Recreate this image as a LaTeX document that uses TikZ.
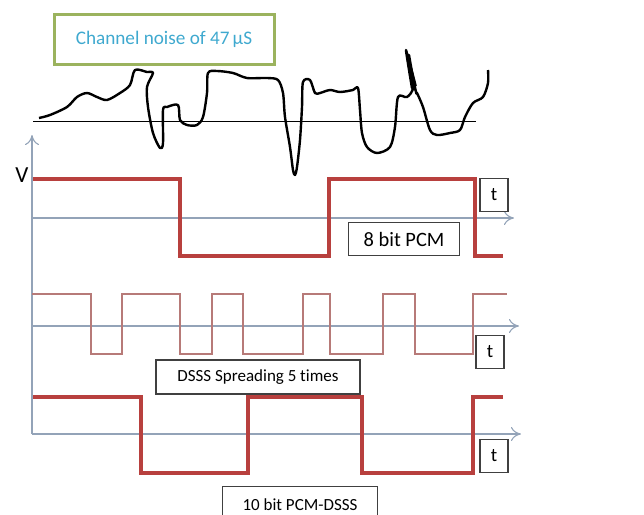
\documentclass[tikz,border=0pt]{standalone}
\usepackage{fontspec}
\setmainfont{Carlito}[Ligatures=NoCommon]
\usetikzlibrary{arrows.meta}
\definecolor{pcmred}{HTML}{B8403E}
\definecolor{chipred}{HTML}{B77A78}
\definecolor{axisgray}{HTML}{93A3B8}
\definecolor{boxgreen}{HTML}{9BB35E}
\definecolor{noisecyan}{HTML}{3FA9CF}
\begin{document}
\begin{tikzpicture}[x=0.5pt, y=-0.5pt,
    axis/.style={draw=axisgray, line width=0.55pt, -{To[length=5pt,width=7pt]}},
    pcm/.style={draw=pcmred, line width=1.6pt},
    chip/.style={draw=chipred, line width=0.6pt},
    lblbox/.style={draw=black!75, line width=0.6pt, fill=white, inner sep=0pt, font=\fontsize{8.5}{10}\selectfont},
    tbox/.style={lblbox, minimum width=14pt, minimum height=16.5pt, font=\fontsize{9.5}{10}\selectfont}]
    \useasboundingbox (0,0) rectangle (644,515);

    % title box
    \node[draw=boxgreen, line width=1.5pt, minimum width=110pt, minimum height=25pt, inner sep=0pt,
          text=noisecyan, font=\fontsize{9.6}{10}\selectfont] (noise) at (164,39) {Channel noise of 47\,µS};

    % noise trace
    \draw[line width=0.5pt] (33,121) -- (476,121);
    \draw[line width=1.2pt, line join=round] plot[smooth, tension=0.5] coordinates {
        (39,118) (50,115) (67,107) (77,97) (87,93) (97,97) (107,100) (120,93) (130,85)
        (135,70) (147,72) (153,73) (147,87) (148,107) (153,133) (160,148) (163,143)
        (163,110) (167,107) (178,105) (180,120) (187,125) (197,125) (203,117) (207,93)
        (208,73) (217,71) (233,73) (247,78) (267,78) (278,80) (283,93) (285,117)
        (290,147) (293,170) (295,175) (297,167) (300,140) (302,107) (303,82) (310,80)
        (315,93) (320,93) (330,90) (340,92) (353,90) (358,88) (360,110) (362,133)
        (367,147) (377,153) (390,147) (395,127) (398,97) (407,97) (413,87)
        (408,60) (412,88) (406,50) (414,85) (409,55) (415,90) (410,62) (416,92)
        (417,93) (423,107) (430,130) (437,135) (450,133) (460,130) (465,117)
        (473,103) (483,97) (488,83) (488,70)};
    % scribble at the spike
    \draw[line width=0.8pt] plot[smooth, tension=0.6] coordinates {
        (407,52) (411,70) (415,88) (412,75) (408,56) (413,74) (416,86) (410,64) (406,50)};

    % axes
    \coordinate (vbot) at (32,434);
    \coordinate (vtop) at (32,135);
    \draw[axis] (vbot) -- (vtop);
    \node[font=\fontsize{11.5}{12}\selectfont] (vlab) at (22,175) {V};
    \coordinate (a1) at (32,218);  \coordinate (e1) at (514,218);
    \coordinate (a2) at (32,326);  \coordinate (e2) at (519,326);
    \coordinate (a3) at (32,434);  \coordinate (e3) at (521,434);
    \draw[axis] (a1) -- (e1);
    \draw[axis] (a2) -- (e2);
    \draw[axis] (a3) -- (e3);

    % 8 bit PCM
    \draw[pcm] (33,179) -| (180,256) -| (329,179) -| (475,256) -- (503,256);
    % DSSS chips
    \draw[chip] (32,294) -| (91,354) -| (122,294) -| (180,354) -| (212,294) -| (243,354)
        -| (303,294) -| (330,354) -| (383,294) -| (415,354) -| (473,294) -- (507,294);
    % 10 bit PCM-DSSS
    \draw[pcm] (33,397) -| (141,473) -| (248,397) -| (362,473) -| (473,397) -- (503,397);

    % labels
    \node[lblbox, minimum width=55.5pt, minimum height=16.5pt, font=\fontsize{10.2}{11}\selectfont] (pcmlab) at (404,239) {8 bit PCM};
    \node[lblbox, minimum width=102pt, minimum height=17pt] (dssslab) at (258,377) {DSSS Spreading 5 times};
    \node[lblbox, minimum width=77.5pt, minimum height=18pt, anchor=north] (mixlab) at (300,486) {10 bit PCM-DSSS};
    \foreach \n/\x/\y in {1/494/195, 2/490/352, 3/494/456}
        \node[tbox] (t\n) at (\x,\y) {t};
\end{tikzpicture}
\end{document}
